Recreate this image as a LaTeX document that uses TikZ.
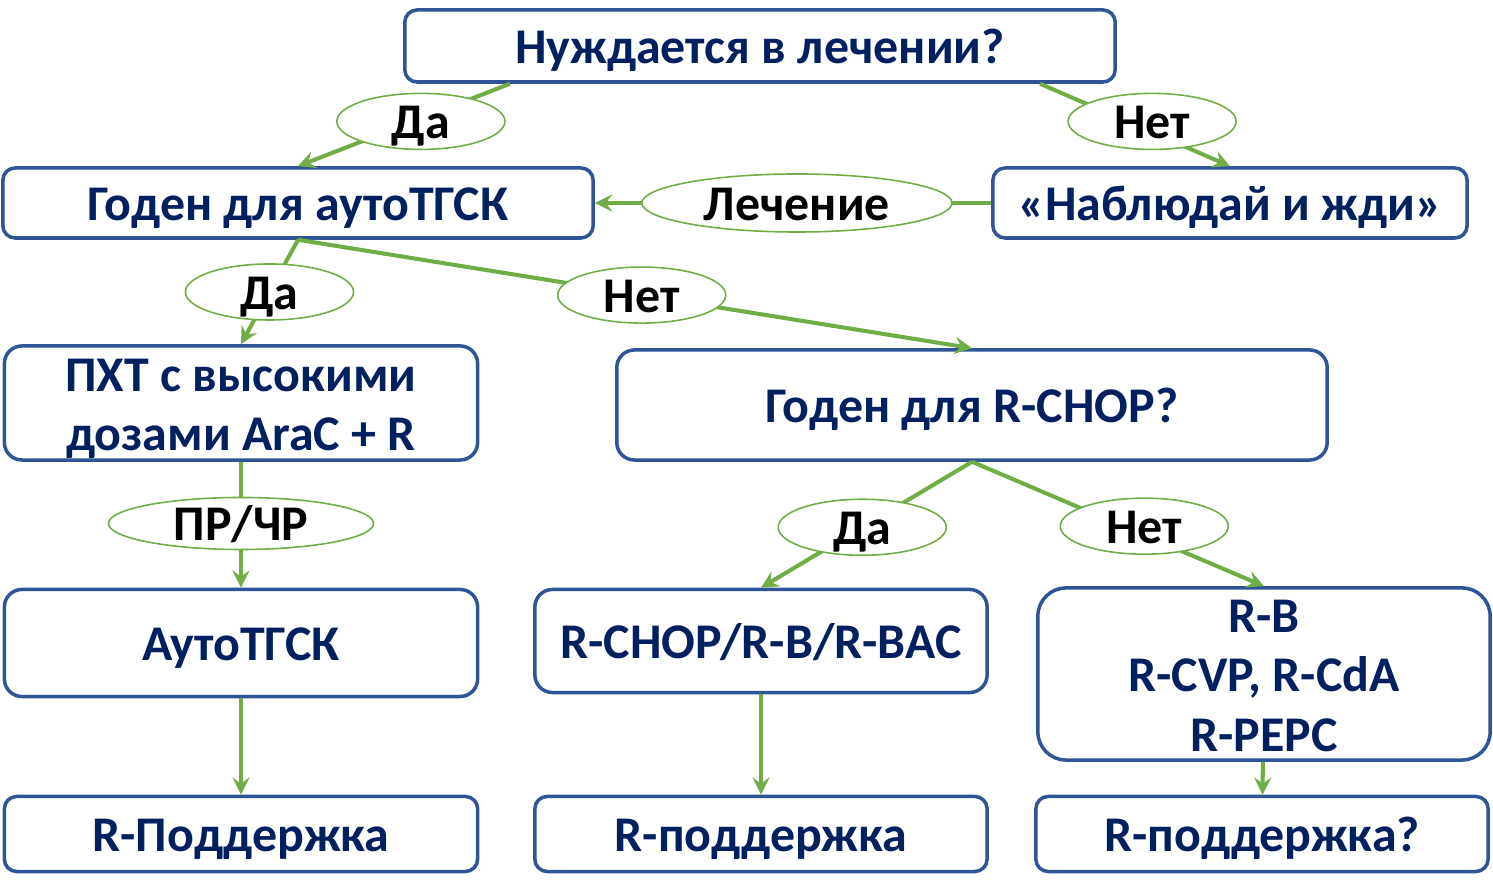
\documentclass[tikz,border=0pt]{standalone}
\usepackage{fontspec}
\setmainfont{Carlito}
\usepackage{xcolor}
\usetikzlibrary{shapes.geometric}
\definecolor{boxblue}{HTML}{2F5597}
\definecolor{textnavy}{HTML}{002060}
\definecolor{arrgreen}{HTML}{70AD47}

\begin{document}
\begin{tikzpicture}[>=stealth, x=0.01cm, y=-0.01cm,
  font=\fontsize{14.2}{17}\selectfont\bfseries,
  box/.style={draw=boxblue, line width=1pt, rounded corners=3.5pt, fill=white, text=textnavy, align=center, inner sep=0pt,
    text height=13.9pt, text depth=3.7pt},
  oval/.style={ellipse, draw=arrgreen, line width=0.45pt, fill=white, inner sep=0pt, minimum width=1.68cm, minimum height=0.56cm,
    text height=9.7pt, text depth=0pt},
  edge/.style={draw=arrgreen, line width=1.15pt}]
  \useasboundingbox (0,0) rectangle (1493,895);
  % boxes
  \node[box, minimum width=7.1cm, minimum height=0.72cm] (need) at (760,46) {Нуждается в лечении?};
  \node[box, minimum width=5.9cm, minimum height=0.7cm] (fitauto) at (298,203) {Годен для аутоТГСК};
  \node[box, minimum width=4.74cm, minimum height=0.7cm] (watch) at (1230,203) {«Наблюдай и жди»};
  \node[box, minimum width=4.73cm, minimum height=1.14cm, rounded corners=5pt, text height=27.2pt, text depth=0pt] (hdac) at (241,403) {ПХТ с высокими\\ дозами AraC + R};
  \node[box, minimum width=7.1cm, minimum height=1.1cm, rounded corners=5pt] (fitchop) at (972,405) {Годен для R-CHOP?};
  \node[box, minimum width=4.73cm, minimum height=1.07cm, rounded corners=5pt] (asct) at (241,643) {АутоТГСК};
  \node[box, minimum width=4.52cm, minimum height=1.03cm, rounded corners=5pt] (chop) at (761,641) {R-CHOP/R-B/R-BAC};
  \node[box, minimum width=4.52cm, minimum height=1.72cm, rounded corners=8pt, text height=44.2pt, text depth=0pt] (rb) at (1264,674) {R-B\\ R-CVP, R-CdA\\ R-PEPC};
  \node[box, minimum width=4.73cm, minimum height=0.75cm] (maint1) at (241,834) {R-Поддержка};
  \node[box, minimum width=4.52cm, minimum height=0.75cm] (maint2) at (761,834) {R-поддержка};
  \node[box, minimum width=4.52cm, minimum height=0.75cm] (maint3) at (1262,834) {R-поддержка?};
  % decisions
  \draw[edge, ->] ([xshift=-2.5cm]need.south) -- node[oval, pos=0.42, yshift=-0.03cm] {Да} (fitauto.north);
  \draw[edge, ->] ([xshift=2.8cm]need.south) -- node[oval, pos=0.59, yshift=0.11cm] {Нет} (watch.north);
  \draw[edge, ->] (watch.west) -- node[oval, pos=0.49, minimum width=3.1cm, minimum height=0.58cm] {Лечение} (fitauto.east);
  \draw[edge, ->] (fitauto.south) -- node[oval, pos=0.5] {Да} (hdac.north);
  \draw[edge, ->] (fitauto.south) -- node[oval, pos=0.51] {Нет} (fitchop.north);
  \draw[edge, ->] (hdac.south) -- node[oval, pos=0.49, minimum width=2.65cm, minimum height=0.52cm] {ПР/ЧР} (asct.north);
  \draw[edge, ->] (fitchop.south) -- node[oval, pos=0.52] {Да} (chop.north);
  \draw[edge, ->] (fitchop.south) -- node[oval, pos=0.59, yshift=0.09cm] {Нет} (rb.north);
  % maintenance
  \draw[edge, ->] (asct) -- (maint1);
  \draw[edge, ->] (chop) -- (maint2);
  \draw[edge, ->] (rb) -- (maint3);
\end{tikzpicture}
\end{document}
